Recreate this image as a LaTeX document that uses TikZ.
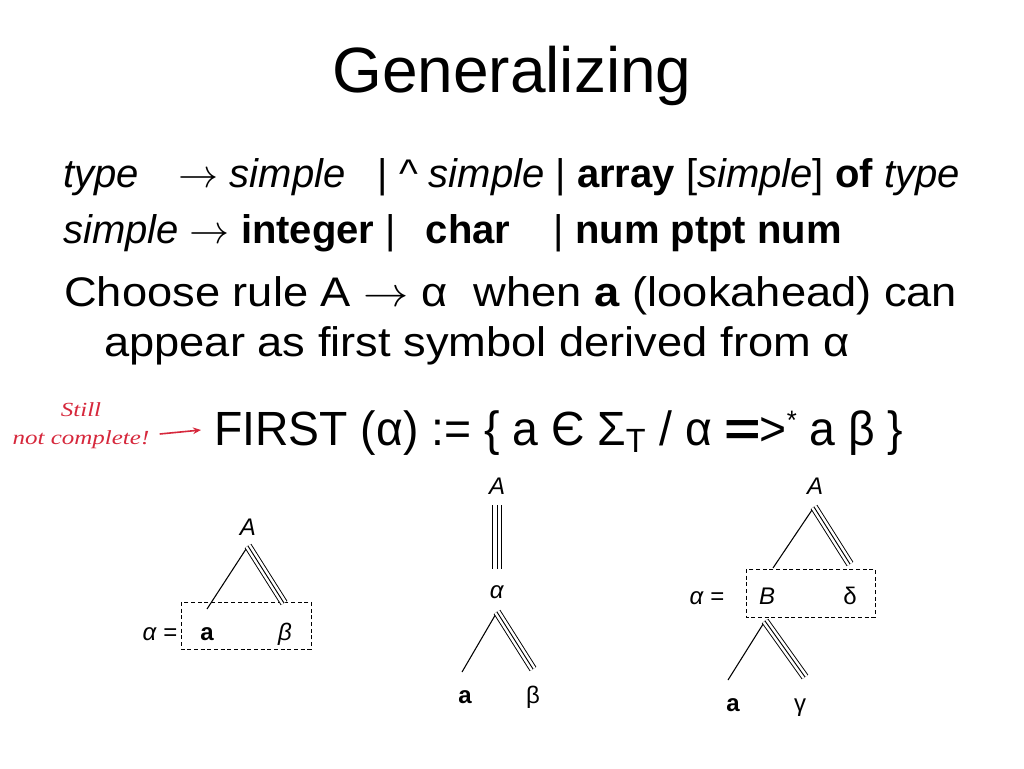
\RequirePackage{fix-cm}
\documentclass[tikz,border=0pt]{standalone}
\usepackage{fontspec}
\setmainfont{Liberation Sans}
\newfontfamily\handfont{Liberation Serif}
\usetikzlibrary{arrows.meta}
\definecolor{inkred}{RGB}{214,40,60}

\begin{document}
\begin{tikzpicture}[x=0.75pt, y=-0.75pt,
			heading/.style={anchor=base, inner sep=0pt, font=\fontsize{48}{52}\selectfont},
			gram/.style={anchor=base west, inner sep=0pt, font=\fontsize{30}{34}\selectfont},
			prose/.style={anchor=base west, inner sep=0pt, xscale=1.095, font=\fontsize{31}{36}\selectfont},
			tree/.style={anchor=base, inner sep=0pt, font=\fontsize{18}{20}\selectfont},
			branch/.style={line width=0.8pt},
			triple/.style={line width=2*#1+0.7pt,
				postaction={draw, white, line width=2*#1-0.7pt},
				postaction={draw, black, line width=0.7pt}},
			triple/.default=2.6pt,
			alphabox/.style={draw, dash pattern=on 3pt off 2pt, line width=0.6pt}]
			\useasboundingbox (0, 0) rectangle (1024, 768);
			\node (title) at (512, 92) [heading] {Generalizing};
			\node (typerule) at (63, 187) [gram] {\textit{type}\hspace{1em}$\rightarrow$ \textit{simple}\hspace{0.8em}| \textasciicircum{} \textit{simple} | \textbf{array} [\textit{simple}] \textbf{of} \textit{type}};
			\node (simplerule) at (63, 243) [gram] {\textit{simple} $\rightarrow$ \textbf{integer} |\hspace{0.75em}\textbf{char}\hspace{1.08em}| \textbf{num ptpt num}};
			\node (choose) at (64, 306) [prose] {Choose rule A $\rightarrow$ α\hspace{0.3em} when \textbf{a} (lookahead) can};
			\node (appear) at (104, 356) [prose] {appear as first symbol derived from α};
			\node (first) at (214, 445) [anchor=base west, inner sep=0pt, xscale=0.965, font=\fontsize{36}{40}\selectfont]
				{FIRST (α) := \{ a Є Σ\textsubscript{T} / α \scalebox{1.35}[1]{\textbf{=}}\kern-1pt>\raisebox{0.32em}{\fontsize{20}{20}\selectfont *} a β \}};
			% handwritten remark
			\node (note) at (81, 426) [inkred, align=center, inner sep=0pt, xscale=1.25,
				font=\handfont\itshape\fontsize{15}{21}\selectfont] {Still\\not complete!};
			\coordinate (tip) at (201, 430);
			\draw[inkred, line width=1.2pt, -{Stealth[length=6pt, width=5pt]}]
				([shift={(10, 8)}]note.east) -- (tip);
			% tree 1
			\node (A1) at (248, 535) [tree] {\textit{A}};
			\coordinate (top1) at (248, 546);
			\coordinate (left1) at (207, 609);
			\coordinate (right1) at (284, 603);
			\draw[alphabox] (181, 602) rectangle (311, 649);
			\node (eq1) at (160, 640) [tree] {\textit{α} =};
			\node (a1) at (207, 640) [tree] {\textbf{a}};
			\node (beta1) at (285, 640) [tree] {\textit{β}};
			% tree 2
			\node (A2) at (497, 494) [tree] {\textit{A}};
			\coordinate (up2) at (497, 505);
			\node (alpha2) at (497, 598) [tree] {\textit{α}};
			\coordinate (down2) at (497, 569);
			\coordinate (top2) at (497, 612);
			\coordinate (left2) at (462, 672);
			\coordinate (right2) at (533, 669);
			\node (a2) at (465, 703) [tree] {\textbf{a}};
			\node (beta2) at (533, 703) [tree] {β};
			% tree 3
			\node (A3) at (815, 494) [tree] {\textit{A}};
			\coordinate (top3) at (814, 507);
			\coordinate (left3) at (773, 568);
			\coordinate (right3) at (850, 564);
			\draw[alphabox] (746, 569) rectangle (875, 617);
			\node (eq3) at (707, 604) [tree] {\textit{α} =};
			\node (B3) at (767, 604) [tree] {\textit{B}};
			\node (delta3) at (850, 604) [tree] {δ};
			\coordinate (sub3) at (765, 621);
			\coordinate (subleft3) at (728, 680);
			\coordinate (subright3) at (805, 677);
			\node (a3) at (733, 711) [tree] {\textbf{a}};
			\node (gamma3) at (800, 711) [tree] {γ};
			\foreach \from/\to in {top1/left1, top2/left2, top3/left3, sub3/subleft3}
				\draw[branch] (\from) -- (\to);
			\foreach \from/\to in {top1/right1, top2/right2, top3/right3, sub3/subright3}
				\draw[triple] (\from) -- (\to);
			\draw[triple=3.5pt] (up2) -- (down2);
\end{tikzpicture}
\end{document}
